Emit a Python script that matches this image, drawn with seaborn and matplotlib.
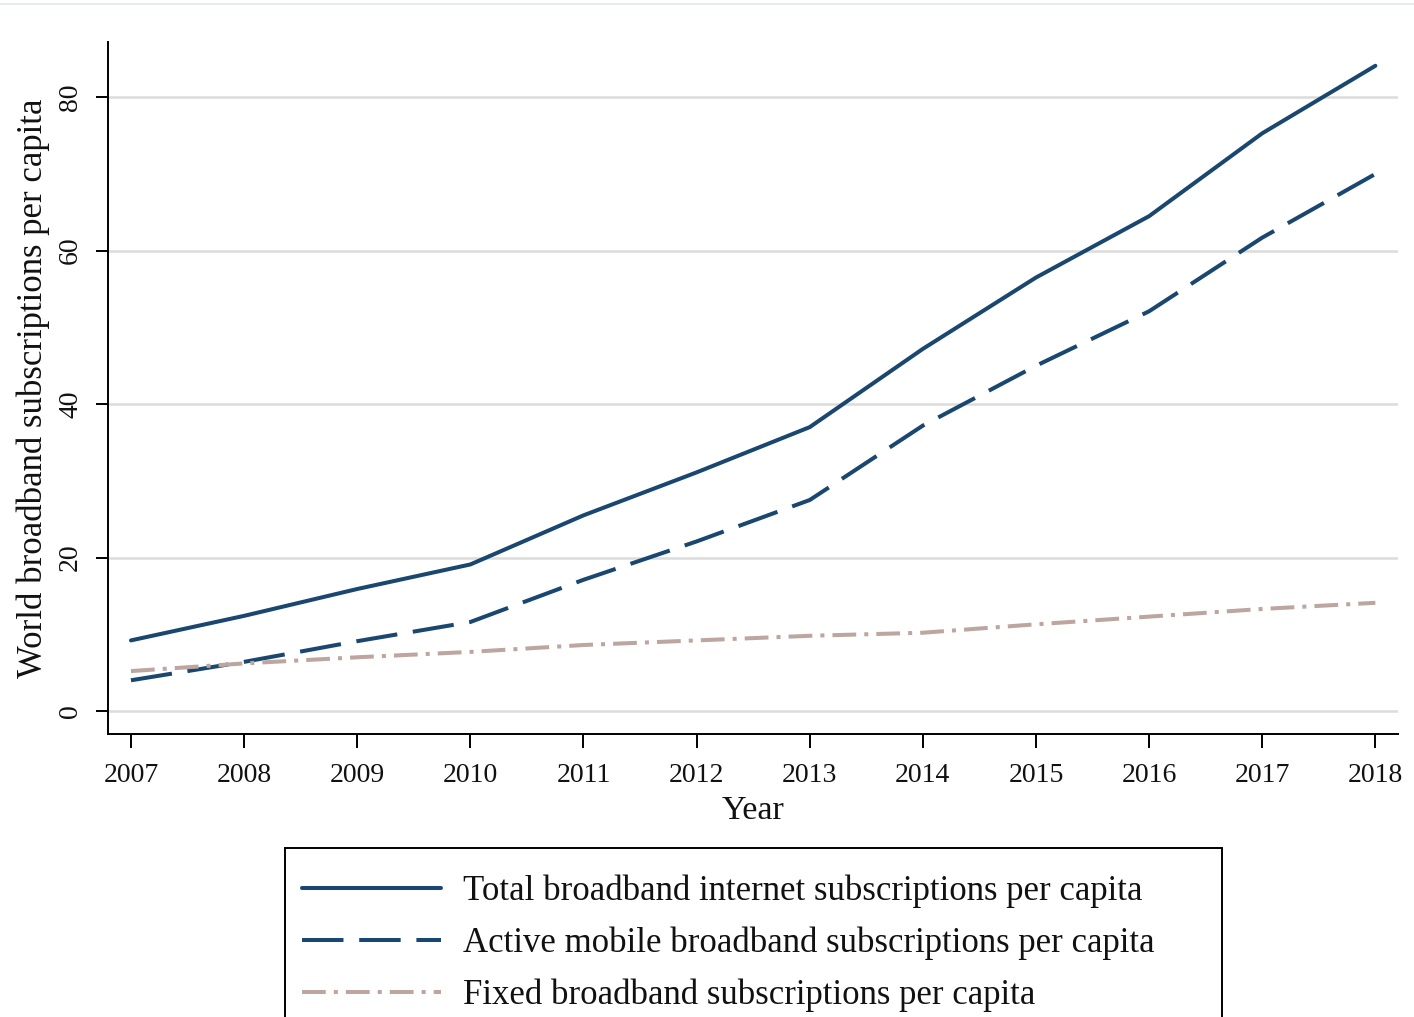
import numpy as np
import pandas as pd
import matplotlib
matplotlib.use("Agg")
import matplotlib.pyplot as plt
from matplotlib.patches import Rectangle
import seaborn as sns

years = [2007, 2008, 2009, 2010, 2011, 2012, 2013, 2014, 2015, 2016, 2017, 2018]
total = [9.2, 12.4, 15.9, 19.1, 25.5, 31.1, 37.0, 47.2, 56.5, 64.5, 75.3, 84.1]
mobile = [4.0, 6.4, 9.1, 11.6, 17.1, 22.1, 27.5, 37.2, 45.0, 52.1, 61.7, 70.0]
fixed = [5.2, 6.2, 7.0, 7.7, 8.6, 9.2, 9.8, 10.2, 11.3, 12.3, 13.3, 14.1]

labels = [
    "Total broadband internet subscriptions per capita",
    "Active mobile broadband subscriptions per capita",
    "Fixed broadband subscriptions per capita",
]
yticks = [0, 20, 40, 60, 80]
ylabel = "World broadband subscriptions per capita"
xlabel = "Year"

navy = "#1a476f"
tan = "#bca69f"
textc = "#111111"

sns.set_theme(style="white")
plt.rcParams["font.family"] = ["Liberation Serif", "DejaVu Serif"]

df = pd.DataFrame({
    "year": years * 3,
    "value": total + mobile + fixed,
    "series": [labels[0]] * len(years) + [labels[1]] * len(years) + [labels[2]] * len(years),
})

fig = plt.figure(figsize=(14.14, 10.17), dpi=100)
ax = fig.add_axes([108 / 1414, 1 - 734 / 1017, (1398 - 108) / 1414, (734 - 42) / 1017])

palette = {labels[0]: navy, labels[1]: navy, labels[2]: tan}
dashes = {labels[0]: "", labels[1]: (10.3, 3.9), labels[2]: (5.9, 2.0, 1.0, 2.0)}
sns.lineplot(data=df, x="year", y="value", hue="series", style="series",
             hue_order=labels, style_order=labels, palette=palette, dashes=dashes,
             linewidth=2.9, ax=ax, legend=False, sort=False)

ax.set_xlim(2006.797, 2018.2)
ax.set_ylim(-3.0, 87.2)
ax.set_xticks(years)
ax.set_xticklabels([str(y) for y in years], fontsize=20)
ax.set_yticks(yticks)
ax.set_yticklabels([str(v) for v in yticks], fontsize=20, rotation=90, va="center")
for g in yticks:
    ax.axhline(g, color="#dcdcdc", linewidth=1.8, zorder=0)
ax.grid(False)
for s in ["top", "right"]:
    ax.spines[s].set_visible(False)
for s in ["left", "bottom"]:
    ax.spines[s].set_color("black")
    ax.spines[s].set_linewidth(1.4)
ax.tick_params(axis="x", which="major", direction="out", length=10, width=1.4,
               color="black", bottom=True, pad=11, labelcolor=textc)
ax.tick_params(axis="y", which="major", direction="out", length=9, width=1.4,
               color="black", left=True, pad=9, labelcolor=textc)
ax.set_xlabel(xlabel, fontsize=24.5, labelpad=5, color=textc)
ax.set_ylabel(ylabel, fontsize=25, labelpad=6, color=textc)

handles = ax.get_lines()[:3]
leg = fig.legend(handles, labels, loc="upper left",
                 bbox_to_anchor=(276 / 1414, 1 - 848 / 1017),
                 fontsize=25, frameon=False, handlelength=4.0,
                 handletextpad=0.62, borderpad=0.76, labelspacing=0.53,
                 borderaxespad=0, labelcolor=textc)

box_top = 1 - 848 / 1017
fig.add_artist(Rectangle((285 / 1414, -0.05), (1222 - 285) / 1414, box_top + 0.05,
                         transform=fig.transFigure, facecolor="none",
                         edgecolor="black", linewidth=1.4))

fig.add_artist(plt.Line2D([0, 1], [1 - 4 / 1017, 1 - 4 / 1017], color="#e6ecec",
                          linewidth=1.5, transform=fig.transFigure))

fig.savefig("out.png", dpi=100)
